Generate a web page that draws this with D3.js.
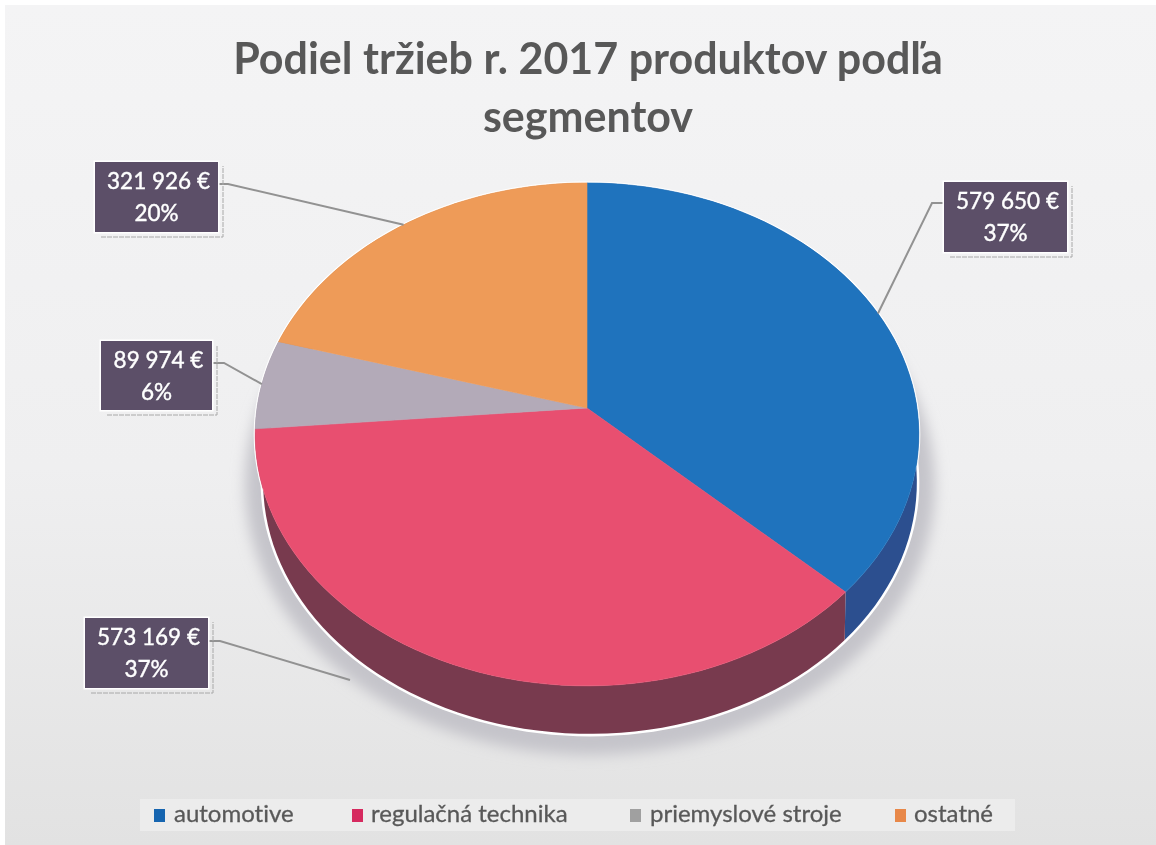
<!DOCTYPE html>
<html>
<head>
<meta charset="utf-8">
<script src="https://cdn.jsdelivr.net/npm/d3@7"></script>
<style>
  html, body { margin: 0; padding: 0; background: #fff; }
  svg { display: block; }
  text { font-family: Lato, "Open Sans", sans-serif; font-variant-ligatures: none; }
</style>
</head>
<body>
<div id="chart"></div>
<script>
const titleLines = ["Podiel tržieb r. 2017 produktov podľa", "segmentov"];
const segments = ["automotive", "regulačná technika", "priemyslové stroje", "ostatné"];
const revenue = [579650, 573169, 89974, 321926];
const shareLabels = ["37%", "37%", "6%", "20%"];

const topColors = ["#1f73bd", "#e84f70", "#b3aab8", "#ee9b58"];
const sideColors = ["#2c4f8f", "#783a4e", "#8d8792", "#b5763f"];
const swatchColors = ["#1565b0", "#d62a5f", "#a0a0a0", "#e8884a"];

const width = 1156;
const height = 845;

// label boxes: x, y, w, h, then leader start and elbow
const boxes = [
    { x: 944, y: 182, w: 123, h: 70, side: "left", elbow: 932, lineY: 203 },
    { x: 85, y: 618, w: 123, h: 70, side: "right", elbow: 220, lineY: 641 },
    { x: 101, y: 341, w: 111, h: 69, side: "right", elbow: 224, lineY: 363 },
    { x: 95, y: 162, w: 123, h: 70, side: "right", elbow: 228, lineY: 184 }
];
const legendSwatchX = [154, 352, 630, 895];
const legendTextX = [174, 371, 650, 914];

const svg = d3.select("#chart").append("svg")
    .attr("width", width)
    .attr("height", height);

const defs = svg.append("defs");

const bg = defs.append("linearGradient").attr("id", "bg")
    .attr("x1", 0).attr("y1", 0).attr("x2", 0).attr("y2", 1);
bg.append("stop").attr("offset", "0%").attr("stop-color", "#f4f4f5");
bg.append("stop").attr("offset", "55%").attr("stop-color", "#efeff0");
bg.append("stop").attr("offset", "100%").attr("stop-color", "#e2e2e2");

defs.append("filter").attr("id", "shadow")
    .attr("x", "-20%").attr("y", "-20%").attr("width", "140%").attr("height", "140%")
    .append("feGaussianBlur").attr("stdDeviation", 7);

defs.append("filter").attr("id", "soft")
    .append("feGaussianBlur").attr("stdDeviation", 0.45);

svg.append("rect")
    .attr("x", 5).attr("y", 5)
    .attr("width", width - 5).attr("height", height - 5)
    .attr("fill", "url(#bg)");

// legend band is a bit lighter than the background around it
svg.append("rect")
    .attr("x", 140).attr("y", 799)
    .attr("width", 875).attr("height", 32)
    .attr("fill", "#ececec");

// tilted disc: a circle seen in perspective, so the apex sits above the middle
const cx = 587, cy = 408, a = 330, b = 248.7, k = -0.105;
const depth = 48, shrink = 0.985, lowerShift = 3;

function project(angle) {
    const u = Math.sin(angle), v = -Math.cos(angle);
    const d = 1 + k * v;
    return [cx + a * u / d, cy + b * v / d];
}
function lower(p) {
    return [cx + lowerShift + (p[0] - cx) * shrink, p[1] + depth];
}

const slices = d3.pie().sort(null)(revenue);
const line = d3.line();

function rimPoints(s) {
    return d3.range(0, 61).map(i => project(s.startAngle + (s.endAngle - s.startAngle) * i / 60));
}

const fullRim = d3.range(0, 181).map(i => project(2 * Math.PI * i / 180));
const fullLower = fullRim.map(lower);

// shadow under the disc
svg.append("path")
    .attr("d", line(fullLower) + "Z")
    .attr("transform", "translate(0,3)")
    .attr("fill", "#c5c4ca")
    .attr("stroke", "#c5c4ca")
    .attr("stroke-width", 36)
    .attr("filter", "url(#shadow)");

// thin white outline around the whole pie
svg.append("path")
    .attr("d", line(fullLower) + "Z")
    .attr("fill", "#fff")
    .attr("stroke", "#fff")
    .attr("stroke-width", 5);
svg.append("path")
    .attr("d", line(fullRim) + "Z")
    .attr("fill", "#fff")
    .attr("stroke", "#fff")
    .attr("stroke-width", 3);

const pie = svg.append("g");

pie.selectAll("path.side")
    .data(slices)
    .enter().append("path")
    .attr("class", "side")
    .attr("d", d => {
        const rim = rimPoints(d);
        return line(rim.concat(rim.map(lower).reverse())) + "Z";
    })
    .attr("fill", (d, i) => sideColors[i]);

pie.selectAll("path.top")
    .data(slices)
    .enter().append("path")
    .attr("class", "top")
    .attr("d", d => line([[cx, cy]].concat(rimPoints(d))) + "Z")
    .attr("fill", (d, i) => topColors[i])
    .attr("stroke", (d, i) => topColors[i])
    .attr("stroke-width", 0.6);

// leaders go to the slice midpoint; the big red one stops in the shadow below the wall
const leaderEnd = slices.map(d => project((d.startAngle + d.endAngle) / 2));
leaderEnd[1] = [350, 680];

svg.append("g").selectAll("path")
    .data(boxes)
    .enter().append("path")
    .attr("d", (d, i) => {
        const x0 = d.side === "left" ? d.x : d.x + d.w;
        return line([[x0, d.lineY], [d.elbow, d.lineY], leaderEnd[i]]);
    })
    .attr("fill", "none")
    .attr("stroke", "#929292")
    .attr("stroke-width", 2);

const money = d3.formatLocale({ decimal: ",", thousands: " ", grouping: [3], currency: ["", " €"] }).format("$,");

const labels = svg.append("g").attr("filter", "url(#soft)").selectAll("g")
    .data(boxes)
    .enter().append("g");

// dotted scan shadow along the bottom and right of each box
labels.append("path")
    .attr("d", d => line([[d.x + 6, d.y + d.h + 5], [d.x + d.w + 5, d.y + d.h + 5], [d.x + d.w + 5, d.y + 4]]))
    .attr("fill", "none")
    .attr("stroke", "#a8a8a8")
    .attr("stroke-width", 1)
    .attr("stroke-dasharray", "5 1");

labels.append("rect")
    .attr("x", d => d.x).attr("y", d => d.y)
    .attr("width", d => d.w).attr("height", d => d.h)
    .attr("fill", "#5b5068")
    .attr("stroke", "#fff")
    .attr("stroke-width", 3)
    .attr("paint-order", "stroke");

labels.append("text")
    .attr("x", d => d.x + d.w / 2 + 2)
    .attr("y", d => d.y + 27)
    .attr("text-anchor", "middle")
    .attr("fill", "#fff")
    .attr("stroke", "#fff")
    .attr("stroke-width", 0.4)
    .attr("font-size", 22.5)
    .text((d, i) => money(revenue[i]));

labels.append("text")
    .attr("x", d => d.x + d.w / 2)
    .attr("y", d => d.y + 59)
    .attr("text-anchor", "middle")
    .attr("fill", "#fff")
    .attr("stroke", "#fff")
    .attr("stroke-width", 0.4)
    .attr("font-size", 22.5)
    .text((d, i) => shareLabels[i]);

svg.append("g").attr("filter", "url(#soft)").selectAll("text")
    .data(titleLines)
    .enter().append("text")
    .attr("x", 588)
    .attr("y", (d, i) => 74 + i * 58)
    .attr("text-anchor", "middle")
    .attr("font-size", 43)
    .attr("font-weight", 700)
    .attr("fill", "#595959")
    .text(d => d);

const legend = svg.append("g").attr("filter", "url(#soft)").selectAll("g")
    .data(segments)
    .enter().append("g");

legend.append("rect")
    .attr("x", (d, i) => legendSwatchX[i])
    .attr("y", 809)
    .attr("width", 11).attr("height", 13)
    .attr("fill", (d, i) => swatchColors[i]);

legend.append("text")
    .attr("x", (d, i) => legendTextX[i])
    .attr("y", 822)
    .attr("font-size", 24)
    .attr("fill", "#595959")
    .attr("stroke", "#595959")
    .attr("stroke-width", 0.3)
    .text(d => d);
</script>
</body>
</html>
